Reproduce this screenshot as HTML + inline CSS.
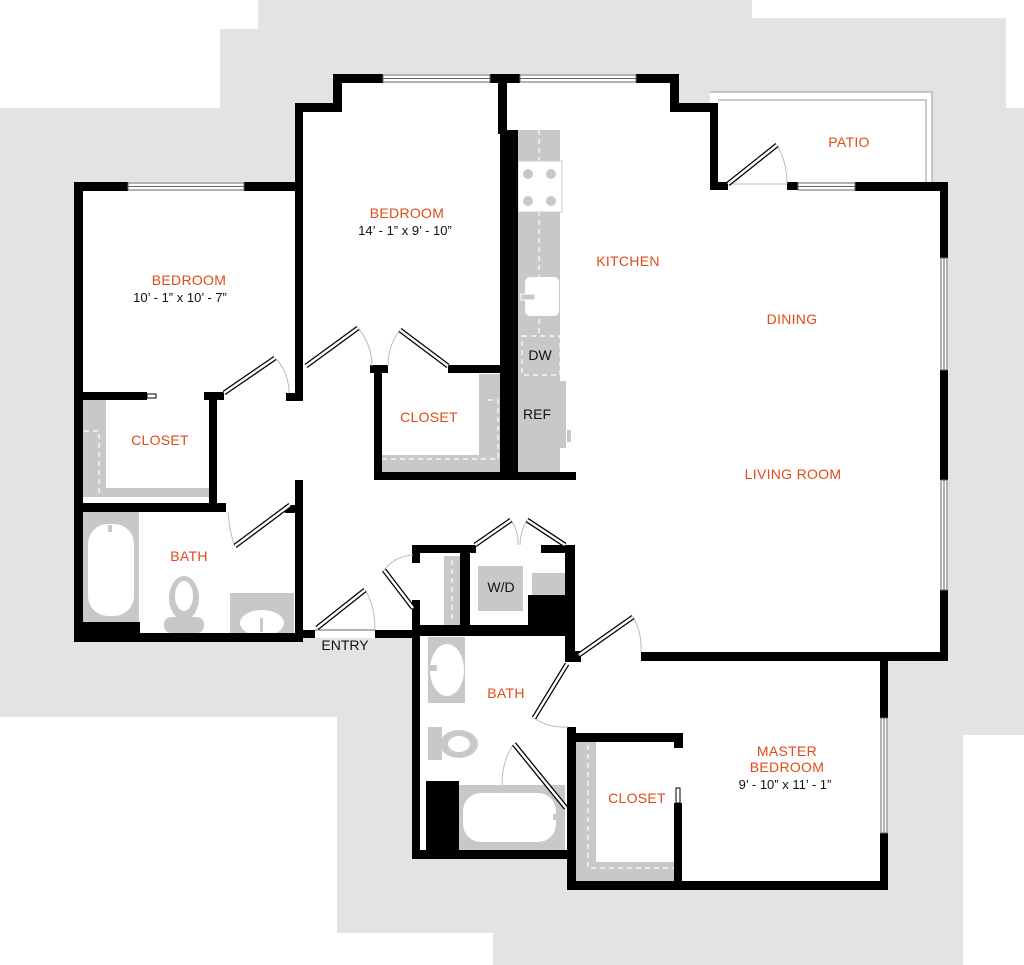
<!DOCTYPE html>
<html><head><meta charset="utf-8"><style>
html,body{margin:0;padding:0;background:#fff;}
svg{display:block}
.l{font-family:"Liberation Sans",sans-serif;font-size:14px;fill:#e24a17;text-anchor:middle;letter-spacing:0.3px}
.d{font-family:"Liberation Sans",sans-serif;font-size:13px;fill:#111;text-anchor:middle}
.k{font-family:"Liberation Sans",sans-serif;font-size:14px;fill:#111;text-anchor:middle}
</style></head><body>
<svg width="1024" height="965" viewBox="0 0 1024 965" xmlns="http://www.w3.org/2000/svg">
<polygon fill="#e3e3e3" points="258,0 752,0 752,18 1006,18 1006,108 1024,108 1024,735 963,735 963,965 493,965 493,933 337,933 337,717 0,717 0,108 220,108 220,29 258,29"/>
<g fill="#fff">
<polygon points="75,182 297,182 297,103 333,103 333,74 678,74 678,103 718,103 718,182 948,182 948,660 888,660 888,890 568,890 568,859 412,859 412,638 303,638 303,642 75,642"/>
<rect x="710" y="92" width="222" height="92"/>
</g>
<g fill="none" stroke="#999" stroke-width="1">
<polyline points="710,92 932,92 932,184"/>
<polyline points="718,100 926,100 926,184"/>
</g>
<g fill="#c8c8c8">
<rect x="83" y="400" width="23" height="97"/>
<rect x="83" y="488" width="126" height="9"/>
<rect x="479" y="374" width="21" height="98"/>
<rect x="382" y="455" width="118" height="17"/>
<rect x="518" y="130" width="42" height="342"/>
<rect x="83" y="512" width="56" height="110"/>
<rect x="230" y="593" width="64" height="40"/>
<rect x="444" y="556" width="16" height="70"/>
<rect x="478" y="566" width="45" height="45"/>
<rect x="532" y="573" width="36" height="22"/>
<rect x="428" y="637" width="37" height="66"/>
<rect x="459" y="785" width="106" height="65"/>
<rect x="576" y="742" width="20" height="139"/>
<rect x="576" y="862" width="100" height="19"/>
<rect x="508" y="381" width="58" height="67"/>
</g>
<g fill="none" stroke="#fff" stroke-width="1.2" stroke-dasharray="5,4">
<polyline points="84,431 99,431 99,497"/>
<polyline points="488,400 498,400 498,459 382,459"/>
<line x1="539" y1="130" x2="539" y2="336"/>
<rect x="522" y="336" width="38" height="39"/>
<line x1="452" y1="560" x2="452" y2="622"/>
<polyline points="588,745 588,868 676,868"/>
</g>
<rect x="518" y="161" width="44" height="51" fill="#fff" stroke="#ccc"/>
<g fill="#c8c8c8"><circle cx="528" cy="174" r="5"/><circle cx="551" cy="174" r="5"/><circle cx="528" cy="201" r="5"/><circle cx="551" cy="201" r="5"/></g>
<rect x="525" y="277" width="34" height="39" rx="5" fill="#fff"/>
<rect x="521" y="294" width="14" height="6" fill="#c8c8c8" stroke="#fff"/>
<rect x="567" y="430" width="4" height="12" fill="#c8c8c8"/>
<rect x="88" y="524" width="46" height="92" rx="20" fill="#fff"/>
<rect x="108" y="525" width="4" height="7" fill="#c8c8c8"/>
<ellipse cx="184" cy="598" rx="15" ry="22" fill="#c8c8c8"/><ellipse cx="184" cy="596" rx="9" ry="15" fill="#fff"/>
<rect x="164" y="617" width="40" height="16" rx="7" fill="#c8c8c8"/>
<ellipse cx="262" cy="623" rx="22" ry="13" fill="#fff"/>
<rect x="260" y="618" width="3" height="14" fill="#c8c8c8"/>
<ellipse cx="447" cy="670" rx="17" ry="26" fill="#fff"/>
<rect x="430" y="665" width="7" height="6" fill="#c8c8c8"/>
<rect x="428" y="727" width="14" height="33" fill="#c8c8c8"/>
<ellipse cx="459" cy="744" rx="19" ry="14" fill="#c8c8c8"/><ellipse cx="459" cy="744" rx="11" ry="8" fill="#fff"/>
<rect x="463" y="793" width="93" height="49" rx="18" fill="#fff"/>
<rect x="553" y="814" width="4" height="6" fill="#c8c8c8"/>
<g fill="#000">
<rect x="74" y="182" width="54" height="9"/>
<rect x="244" y="182" width="59" height="9"/>
<rect x="74" y="182" width="9" height="460"/>
<rect x="295" y="103" width="46" height="9"/>
<rect x="333" y="74" width="9" height="38"/>
<rect x="333" y="74" width="50" height="9"/>
<rect x="490" y="74" width="30" height="9"/>
<rect x="636" y="74" width="42" height="9"/>
<rect x="670" y="74" width="9" height="38"/>
<rect x="670" y="103" width="48" height="9"/>
<rect x="710" y="103" width="8" height="87"/>
<rect x="710" y="182" width="18" height="8"/>
<rect x="787" y="182" width="11" height="8"/>
<rect x="855" y="182" width="93" height="9"/>
<rect x="940" y="182" width="8" height="76"/>
<rect x="940" y="370" width="8" height="110"/>
<rect x="940" y="590" width="8" height="71"/>
<rect x="641" y="652" width="307" height="9"/>
<rect x="880" y="652" width="8" height="66"/>
<rect x="880" y="833" width="8" height="57"/>
<rect x="568" y="881" width="320" height="9"/>
<rect x="567" y="727" width="9" height="163"/>
<rect x="576" y="733" width="107" height="9"/>
<rect x="674" y="733" width="9" height="15"/>
<rect x="674" y="803" width="8" height="78"/>
<rect x="567" y="651" width="14" height="11"/>
<rect x="565" y="545" width="10" height="117"/>
<rect x="295" y="103" width="8" height="298"/>
<rect x="286" y="393" width="17" height="8"/>
<rect x="498" y="74" width="9" height="60"/>
<rect x="500" y="130" width="18" height="350"/>
<rect x="448" y="365" width="52" height="8"/>
<rect x="370" y="365" width="18" height="8"/>
<rect x="374" y="365" width="8" height="115"/>
<rect x="374" y="472" width="202" height="8"/>
<rect x="74" y="392" width="73" height="8"/>
<rect x="204" y="392" width="20" height="8"/>
<rect x="209" y="392" width="8" height="118"/>
<rect x="74" y="503" width="152" height="9"/>
<rect x="295" y="480" width="8" height="162"/>
<rect x="285" y="505" width="18" height="8"/>
<rect x="74" y="633" width="229" height="9"/>
<rect x="83" y="622" width="57" height="11"/>
<rect x="303" y="630" width="12" height="8"/>
<rect x="375" y="630" width="40" height="8"/>
<rect x="412" y="545" width="8" height="18"/>
<rect x="412" y="545" width="64" height="8"/>
<rect x="460" y="553" width="10" height="72"/>
<rect x="528" y="595" width="45" height="40"/>
<rect x="412" y="625" width="163" height="11"/>
<rect x="412" y="600" width="8" height="259"/>
<rect x="412" y="850" width="156" height="9"/>
<rect x="426" y="781" width="33" height="69"/>
<rect x="541" y="545" width="34" height="8"/>
</g>
<rect x="147" y="394" width="9" height="4" fill="#fff" stroke="#000" stroke-width="1"/>
<rect x="676" y="788" width="4" height="15" fill="#fff" stroke="#000" stroke-width="1"/>
<g fill="#fff" stroke="#666" stroke-width="1">
<rect x="128" y="183" width="116" height="7"/><line x1="128" y1="186.5" x2="244" y2="186.5"/>
<rect x="383" y="75" width="107" height="7"/><line x1="383" y1="78.5" x2="490" y2="78.5"/>
<rect x="520" y="75" width="116" height="7"/><line x1="520" y1="78.5" x2="636" y2="78.5"/>
<rect x="798" y="183" width="57" height="7"/><line x1="798" y1="186.5" x2="855" y2="186.5"/>
<rect x="941" y="258" width="6" height="112"/><line x1="944" y1="258" x2="944" y2="370"/>
<rect x="941" y="480" width="6" height="110"/><line x1="944" y1="480" x2="944" y2="590"/>
<rect x="881" y="718" width="6" height="115"/><line x1="884" y1="718" x2="884" y2="833"/>
<line x1="315" y1="630" x2="375" y2="630"/>
</g>
<g fill="none" stroke="#bbb" stroke-width="1">
<path d="M275,358 Q289,372 289,393"/>
<path d="M358,328 Q372,345 372,366"/>
<path d="M400,330 Q388,345 388,366"/>
<path d="M228,512 Q230,535 235,546"/>
<path d="M365,590 Q375,605 375,630"/>
<path d="M384,570 Q395,556 413,555"/>
<path d="M511,520 Q519,532 518,545"/>
<path d="M527,520 Q520,532 520,545"/>
<path d="M633,617 Q642,632 641,652"/>
<path d="M534,718 Q548,728 568,727"/>
<path d="M514,744 Q502,760 502,785"/>
<path d="M777,145 Q787,162 787,184"/>
<path d="M729,184 L787,184"/>
</g>
<g stroke="#000" stroke-width="5">
<line x1="224" y1="393" x2="275" y2="358"/>
<line x1="306" y1="366" x2="358" y2="328"/>
<line x1="400" y1="330" x2="448" y2="366"/>
<line x1="235" y1="546" x2="290" y2="505"/>
<line x1="317" y1="628" x2="365" y2="590"/>
<line x1="384" y1="570" x2="413" y2="608"/>
<line x1="475" y1="545" x2="511" y2="520"/>
<line x1="527" y1="520" x2="565" y2="545"/>
<line x1="579" y1="655" x2="633" y2="617"/>
<line x1="567" y1="664" x2="534" y2="718"/>
<line x1="514" y1="744" x2="566" y2="808"/>
<line x1="728" y1="184" x2="777" y2="145"/>
</g>
<g stroke="#fff" stroke-width="2.5">
<line x1="224" y1="393" x2="275" y2="358"/>
<line x1="306" y1="366" x2="358" y2="328"/>
<line x1="400" y1="330" x2="448" y2="366"/>
<line x1="235" y1="546" x2="290" y2="505"/>
<line x1="317" y1="628" x2="365" y2="590"/>
<line x1="384" y1="570" x2="413" y2="608"/>
<line x1="475" y1="545" x2="511" y2="520"/>
<line x1="527" y1="520" x2="565" y2="545"/>
<line x1="579" y1="655" x2="633" y2="617"/>
<line x1="567" y1="664" x2="534" y2="718"/>
<line x1="514" y1="744" x2="566" y2="808"/>
<line x1="728" y1="184" x2="777" y2="145"/>
</g>
<text class="l" x="189" y="285">BEDROOM</text>
<text class="d" x="180" y="302">10’ - 1” x 10’ - 7”</text>
<text class="l" x="407" y="218">BEDROOM</text>
<text class="d" x="405" y="235">14’ - 1” x 9’ - 10”</text>
<text class="l" x="628" y="266">KITCHEN</text>
<text class="l" x="849" y="147">PATIO</text>
<text class="l" x="792" y="324">DINING</text>
<text class="l" x="793" y="479">LIVING ROOM</text>
<text class="l" x="160" y="445">CLOSET</text>
<text class="l" x="429" y="422">CLOSET</text>
<text class="l" x="189" y="561">BATH</text>
<text class="l" x="506" y="698">BATH</text>
<text class="l" x="637" y="803">CLOSET</text>
<text class="l" x="787" y="756">MASTER</text>
<text class="l" x="787" y="772">BEDROOM</text>
<text class="d" x="785" y="789">9’ - 10” x 11’ - 1”</text>
<text class="k" x="540" y="360">DW</text>
<text class="k" x="537" y="419">REF</text>
<text class="k" x="501" y="592">W/D</text>
<text class="k" x="345" y="650">ENTRY</text>
</svg>
</body></html>
